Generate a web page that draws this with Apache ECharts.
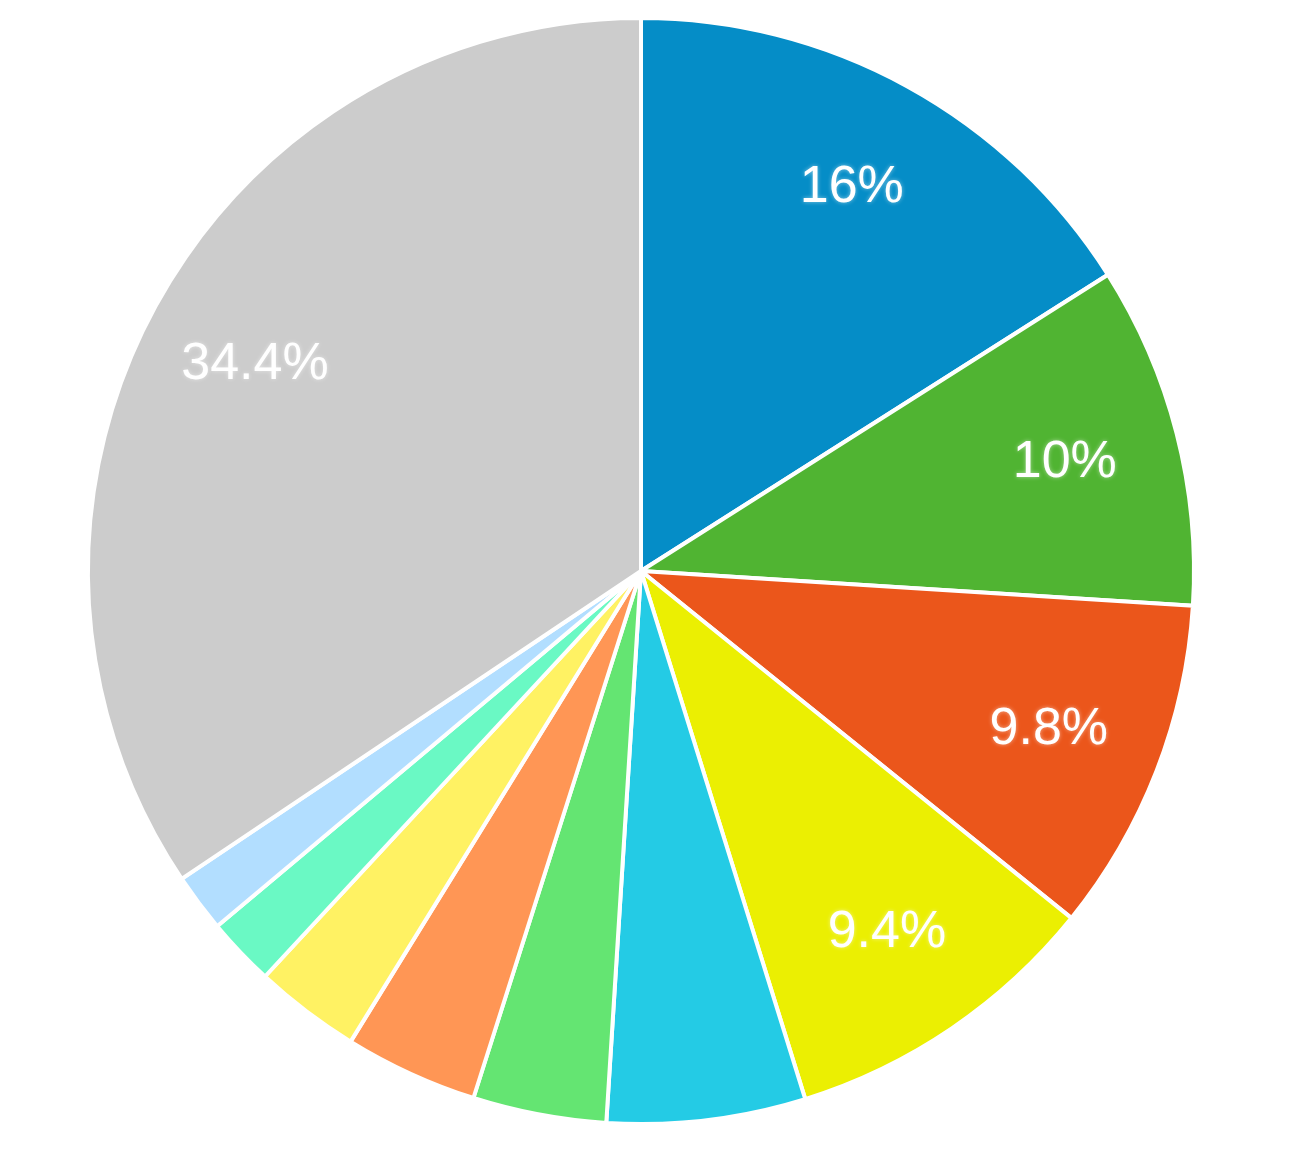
<!DOCTYPE html>
<html>
<head>
<meta charset="utf-8">
<script src="https://cdn.jsdelivr.net/npm/echarts@6/dist/echarts.min.js"></script>
<style>
html, body { margin: 0; padding: 0; background: #ffffff; }
#chart { width: 1300px; height: 1150px; }
</style>
</head>
<body>
<div id="chart"></div>
<script>
// Slice names (not shown in the picture), values (%) and colours, clockwise from 12 o'clock
const categories = ['A', 'B', 'C', 'D', 'E', 'F', 'G', 'H', 'I', 'J', 'Other'];
const values = [16, 10, 9.8, 9.4, 5.8, 3.9, 3.9, 3.1, 2.0, 1.7, 34.4];
const colors = ['#058DC7', '#50B432', '#EB561B', '#EBEF02', '#24CBE5', '#64E572',
                '#FF9655', '#FFF263', '#6AF9C4', '#B2DEFF', '#CCCCCC'];
const labelMin = 9.4; // smallest value whose percentage is printed

const data = categories.map((name, i) => ({
  name: name,
  value: values[i],
  itemStyle: { color: colors[i] }
}));

const chart = echarts.init(document.getElementById('chart'), null, { renderer: 'canvas' });
chart.setOption({
  animation: false,
  backgroundColor: '#ffffff',
  series: [
    {
      type: 'pie',
      center: [641, 571],
      radius: [0, 553],
      startAngle: 90,
      clockwise: true,
      avoidLabelOverlap: false,
      silent: true,
      itemStyle: { borderColor: '#ffffff', borderWidth: 4 },
      label: { show: false },
      labelLine: { show: false },
      data: data
    },
    {
      // transparent ring used only to place the percentage labels further out
      type: 'pie',
      center: [641, 571],
      radius: [318, 551],
      startAngle: 90,
      clockwise: true,
      avoidLabelOverlap: false,
      silent: true,
      itemStyle: { color: 'rgba(0,0,0,0)', borderWidth: 0 },
      label: {
        show: true,
        position: 'inside',
        color: '#ffffff',
        fontFamily: 'Liberation Sans, Arial, sans-serif',
        fontSize: 52,
        fontWeight: 'normal',
        textShadowColor: 'rgba(255,255,255,0.5)',
        textShadowBlur: 4,
        formatter: p => (p.value >= labelMin ? p.value + '%' : '')
      },
      labelLine: { show: false },
      data: categories.map((name, i) => ({ name: name, value: values[i] }))
    }
  ]
});
</script>
</body>
</html>
